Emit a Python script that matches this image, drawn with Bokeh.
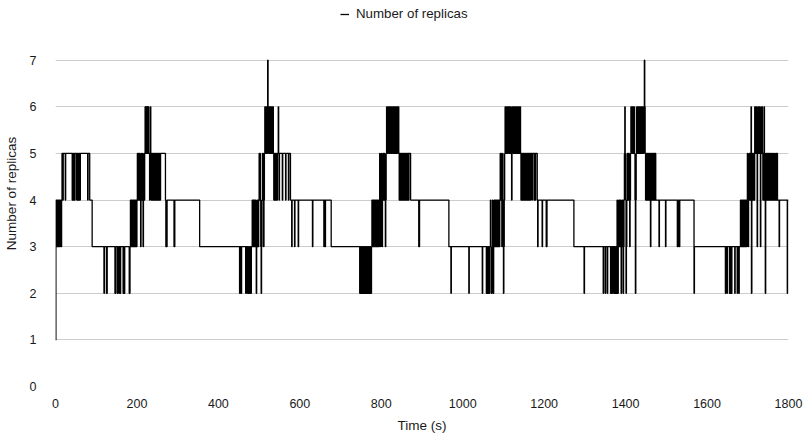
from bokeh.plotting import figure
from bokeh.models import Range1d, Legend, LegendItem, FixedTicker
from bokeh.embed import file_html
from bokeh.resources import INLINE

# ---- data: change points (time in s, number of replicas from that time on) ----
cycle_1 = [(0, 1), (1, 4), (3, 3), (4, 4), (5, 3), (6, 4), (7, 3), (8, 4), (9, 3), (10, 4), (11, 3), (12, 4),
           (14, 3), (15, 4), (16, 5), (18, 4), (19, 5), (24, 4), (25, 5), (41, 4), (42, 5), (43, 4), (44, 5),
           (45, 4), (46, 5), (47, 4), (48, 5), (52, 4), (53, 5), (54, 4), (55, 5), (56, 4), (57, 5), (58, 4),
           (59, 5), (60, 4), (61, 5), (79, 4), (80, 5), (84, 4), (90, 3), (119, 2), (120, 3), (125, 2), (127, 3),
           (146, 2), (148, 3), (152, 2), (154, 3), (157, 2), (158, 3), (159, 2), (160, 3), (166, 2), (167, 3),
           (168, 2), (170, 3), (181, 2), (183, 3), (184, 4), (185, 3), (186, 4), (187, 3), (188, 4), (189, 3),
           (190, 4), (191, 3), (192, 4), (193, 3), (194, 4), (195, 3), (196, 4), (197, 3), (198, 4), (199, 3),
           (200, 4), (201, 5), (202, 4), (203, 5), (204, 4), (205, 5), (206, 4), (207, 5), (208, 4), (209, 3),
           (210, 4), (211, 5), (212, 4), (213, 5), (214, 4), (215, 3), (216, 4), (217, 5), (218, 4), (219, 5),
           (220, 6), (221, 5), (222, 6), (223, 5), (224, 6), (225, 5), (226, 6), (227, 5), (228, 6), (229, 5),
           (231, 4), (232, 5), (233, 6), (234, 5), (235, 4), (236, 5), (237, 4), (238, 5), (239, 4), (240, 5),
           (241, 4), (242, 5), (243, 4), (244, 5), (245, 4), (246, 5), (247, 4), (248, 5), (250, 4), (251, 5),
           (252, 4), (253, 5), (255, 4), (256, 5), (257, 4), (258, 5), (270, 4), (271, 3), (274, 4), (291, 3),
           (293, 4), (354, 3)]

cycle_2 = [(452, 2), (453, 3), (455, 2), (457, 3), (467, 2), (468, 3), (470, 2), (471, 3), (473, 2), (475, 3),
           (477, 2), (479, 3), (480, 2), (481, 3), (483, 4), (484, 3), (485, 4), (486, 3), (487, 4), (488, 3),
           (489, 4), (490, 3), (491, 4), (492, 3), (493, 2), (494, 3), (495, 4), (496, 3), (497, 4), (498, 3),
           (499, 4), (500, 5), (501, 4), (502, 5), (503, 4), (504, 3), (505, 2), (506, 3), (507, 4), (508, 5),
           (509, 4), (510, 5), (511, 3), (512, 4), (513, 5), (514, 6), (515, 5), (516, 6), (517, 5), (518, 6),
           (519, 5), (520, 6), (521, 7), (522, 6), (523, 5), (524, 6), (525, 5), (526, 6), (527, 5), (528, 6),
           (529, 5), (530, 6), (531, 5), (532, 6), (533, 5), (534, 6), (535, 5), (536, 4), (537, 5), (538, 4),
           (539, 5), (540, 4), (541, 5), (542, 4), (543, 5), (544, 4), (545, 5), (547, 6), (548, 5), (549, 4),
           (550, 5), (557, 4), (558, 5), (565, 4), (566, 5), (572, 4), (573, 5), (577, 4), (580, 3), (581, 4),
           (587, 3), (588, 4), (596, 3), (597, 4), (631, 3), (632, 4), (659, 3), (660, 4), (662, 3), (663, 4),
           (677, 3)]

cycle_3 = [(747, 2), (748, 3), (749, 2), (750, 3), (752, 2), (753, 3), (754, 2), (756, 3), (757, 2), (758, 3),
           (760, 2), (761, 3), (762, 2), (764, 3), (765, 2), (766, 3), (768, 2), (769, 3), (771, 2), (772, 3),
           (774, 2), (776, 3), (777, 4), (778, 3), (779, 4), (780, 3), (781, 4), (782, 3), (783, 4), (784, 3),
           (785, 4), (786, 3), (787, 4), (788, 3), (789, 4), (790, 3), (791, 4), (792, 3), (793, 4), (794, 3),
           (795, 4), (796, 5), (797, 4), (798, 3), (799, 4), (800, 5), (801, 4), (802, 3), (803, 4), (804, 5),
           (805, 4), (806, 5), (807, 4), (808, 5), (809, 4), (810, 3), (811, 4), (812, 5), (813, 6), (814, 5),
           (815, 6), (816, 5), (817, 6), (819, 5), (820, 6), (821, 5), (822, 6), (823, 5), (824, 6), (825, 5),
           (826, 6), (828, 5), (829, 6), (830, 5), (831, 6), (832, 5), (833, 6), (834, 5), (835, 6), (836, 5),
           (837, 6), (838, 5), (839, 6), (840, 5), (841, 6), (843, 5), (844, 4), (845, 5), (846, 4), (847, 5),
           (848, 4), (849, 5), (850, 4), (851, 5), (852, 4), (853, 5), (854, 4), (855, 5), (856, 4), (857, 5),
           (858, 4), (859, 5), (861, 4), (862, 5), (864, 4), (865, 5), (867, 4), (868, 5), (872, 4), (892, 3),
           (894, 4), (966, 3)]

cycle_4 = [(971, 2), (972, 3), (1015, 2), (1016, 3), (1048, 2), (1049, 3), (1058, 2), (1059, 3), (1061, 2),
           (1063, 3), (1065, 2), (1066, 3), (1068, 4), (1069, 3), (1070, 2), (1072, 3), (1073, 4), (1074, 3),
           (1075, 2), (1076, 3), (1077, 4), (1078, 3), (1079, 4), (1080, 3), (1081, 4), (1082, 3), (1083, 4),
           (1084, 3), (1085, 4), (1086, 3), (1087, 4), (1088, 3), (1089, 4), (1090, 3), (1091, 4), (1092, 5),
           (1093, 4), (1094, 5), (1095, 4), (1096, 3), (1097, 4), (1098, 5), (1099, 4), (1100, 2), (1101, 3),
           (1102, 4), (1103, 5), (1104, 6), (1105, 5), (1106, 6), (1107, 5), (1109, 6), (1110, 5), (1111, 6),
           (1113, 5), (1114, 6), (1115, 5), (1116, 6), (1117, 5), (1118, 6), (1119, 5), (1120, 4), (1121, 5),
           (1122, 6), (1124, 5), (1125, 6), (1126, 5), (1127, 6), (1128, 5), (1129, 6), (1130, 5), (1131, 6),
           (1132, 5), (1133, 6), (1134, 5), (1135, 6), (1136, 5), (1137, 6), (1138, 5), (1139, 6), (1140, 5),
           (1141, 6), (1142, 5), (1143, 4), (1144, 5), (1145, 4), (1146, 5), (1147, 4), (1148, 5), (1149, 4),
           (1150, 5), (1151, 4), (1152, 5), (1153, 4), (1154, 5), (1155, 4), (1156, 5), (1157, 4), (1158, 5),
           (1159, 4), (1160, 5), (1162, 4), (1163, 5), (1164, 4), (1165, 5), (1166, 4), (1167, 5), (1170, 4),
           (1171, 5), (1175, 4), (1176, 5), (1178, 4), (1179, 5), (1183, 4), (1184, 3), (1185, 4), (1195, 3),
           (1196, 4), (1205, 3), (1207, 4), (1273, 3)]

cycle_5 = [(1298, 2), (1299, 3), (1345, 2), (1346, 3), (1350, 2), (1351, 3), (1355, 2), (1356, 3), (1363, 2),
           (1365, 3), (1367, 2), (1368, 3), (1371, 2), (1372, 3), (1374, 2), (1376, 3), (1378, 2), (1379, 4),
           (1380, 3), (1381, 2), (1382, 3), (1383, 4), (1384, 3), (1385, 4), (1386, 3), (1387, 4), (1388, 3),
           (1389, 2), (1390, 3), (1391, 4), (1392, 3), (1393, 4), (1394, 2), (1395, 3), (1396, 4), (1397, 5),
           (1398, 6), (1399, 5), (1400, 4), (1401, 2), (1402, 3), (1403, 4), (1404, 5), (1405, 4), (1406, 5),
           (1407, 4), (1408, 5), (1409, 4), (1410, 3), (1411, 4), (1412, 5), (1413, 6), (1414, 5), (1415, 6),
           (1416, 5), (1417, 6), (1418, 5), (1419, 6), (1420, 5), (1421, 6), (1422, 5), (1423, 4), (1424, 2),
           (1425, 4), (1426, 5), (1427, 6), (1428, 5), (1429, 6), (1430, 5), (1431, 6), (1432, 5), (1433, 6),
           (1434, 5), (1435, 6), (1436, 5), (1437, 6), (1438, 5), (1439, 6), (1440, 5), (1441, 6), (1442, 5),
           (1443, 6), (1444, 5), (1445, 6), (1446, 7), (1447, 6), (1448, 5), (1449, 4), (1450, 5), (1451, 4),
           (1452, 5), (1453, 4), (1454, 5), (1455, 4), (1456, 5), (1457, 4), (1458, 5), (1459, 4), (1460, 5),
           (1461, 3), (1462, 4), (1463, 5), (1465, 4), (1466, 5), (1468, 4), (1469, 5), (1471, 4), (1472, 5),
           (1474, 4), (1482, 3), (1483, 4), (1498, 3), (1499, 4), (1527, 3), (1529, 4), (1532, 3), (1533, 4),
           (1568, 2), (1569, 3)]

cycle_6 = [(1645, 2), (1646, 3), (1649, 2), (1650, 3), (1655, 2), (1656, 3), (1657, 2), (1658, 3), (1660, 2),
           (1661, 3), (1668, 2), (1669, 3), (1674, 2), (1675, 3), (1678, 2), (1679, 3), (1682, 4), (1683, 3),
           (1684, 4), (1685, 3), (1686, 4), (1687, 3), (1688, 4), (1689, 3), (1690, 4), (1691, 3), (1692, 4),
           (1693, 3), (1694, 4), (1695, 3), (1696, 4), (1697, 3), (1698, 4), (1699, 5), (1700, 4), (1701, 3),
           (1702, 4), (1703, 5), (1704, 4), (1705, 5), (1706, 4), (1707, 5), (1708, 6), (1709, 2), (1710, 4),
           (1711, 5), (1712, 4), (1713, 5), (1714, 4), (1715, 5), (1716, 4), (1717, 6), (1718, 5), (1719, 6),
           (1720, 5), (1721, 6), (1722, 5), (1723, 3), (1724, 5), (1725, 6), (1726, 5), (1727, 6), (1728, 5),
           (1729, 6), (1730, 5), (1731, 3), (1732, 5), (1733, 6), (1734, 5), (1735, 6), (1736, 5), (1737, 4),
           (1738, 5), (1739, 4), (1740, 6), (1741, 4), (1742, 5), (1743, 2), (1744, 4), (1745, 5), (1746, 4),
           (1747, 5), (1748, 4), (1749, 5), (1750, 4), (1751, 5), (1752, 4), (1753, 5), (1754, 4), (1755, 5),
           (1756, 4), (1757, 5), (1758, 4), (1760, 5), (1761, 4), (1763, 5), (1764, 4), (1766, 5), (1767, 4),
           (1769, 5), (1770, 4), (1771, 5), (1773, 4), (1777, 3), (1778, 4), (1797, 2), (1798, 4), (1800, 4)]

x_ticks = [0, 200, 400, 600, 800, 1000, 1200, 1400, 1600, 1800]
y_ticks = [0, 1, 2, 3, 4, 5, 6, 7]
series_name = "Number of replicas"
x_title = "Time (s)"
y_title = "Number of replicas"

points = cycle_1 + cycle_2 + cycle_3 + cycle_4 + cycle_5 + cycle_6
time_s = [t for t, n in points]
replicas = [n for t, n in points]

FONT = "Liberation Sans"
TXT = "#1a1a1a"

# layout: plot frame spans canvas rows 0..388 so the legend can sit above the 7-line;
# value 0 at row 388 and 7 at row 60
FRAME_H = 388
y_top = 7 * FRAME_H / (FRAME_H - 60)

p = figure(width=803, height=435, output_backend="svg", toolbar_location=None,
           x_range=Range1d(0, 1800), y_range=Range1d(0, y_top),
           min_border_left=55, min_border_right=15, min_border_top=0, min_border_bottom=47)
p.outline_line_color = None
p.background_fill_color = "white"
p.border_fill_color = "white"

r = p.step(time_s, replicas, mode="after", line_color="black", line_width=1.3)

p.xgrid.visible = False
p.ygrid.ticker = FixedTicker(ticks=y_ticks)
p.ygrid.grid_line_color = "#cccccc"
p.ygrid.grid_line_width = 1

p.xaxis.ticker = FixedTicker(ticks=x_ticks)
p.yaxis.ticker = FixedTicker(ticks=y_ticks)
for ax in (p.xaxis[0], p.yaxis[0]):
    ax.axis_line_color = None
    ax.major_tick_line_color = None
    ax.minor_tick_line_color = None
    ax.major_label_text_font = FONT
    ax.major_label_text_font_size = "12.5px"
    ax.major_label_text_color = TXT
    ax.axis_label_text_font = FONT
    ax.axis_label_text_font_size = "13.5px"
    ax.axis_label_text_font_style = "normal"
    ax.axis_label_text_color = TXT
p.xaxis.major_label_standoff = 6
p.yaxis.major_label_standoff = 13
p.xaxis.axis_label = x_title
p.xaxis.axis_label_standoff = 7
p.yaxis.axis_label = y_title
p.yaxis.axis_label_standoff = 8

legend = Legend(items=[LegendItem(label=series_name, renderers=[r])], location=(285, 365),
                orientation="horizontal", padding=0, margin=0, spacing=0,
                glyph_width=9, glyph_height=14, label_height=14, label_standoff=7,
                label_text_font=FONT, label_text_font_size="13.3px", label_text_color=TXT,
                border_line_alpha=0, background_fill_alpha=0)
p.add_layout(legend)

open("out.html", "w").write(file_html(p, INLINE))
